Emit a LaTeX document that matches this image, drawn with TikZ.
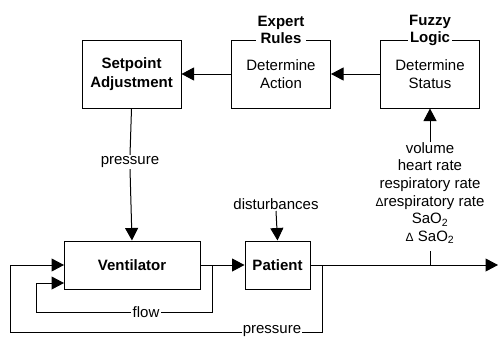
\documentclass[tikz,border=0pt]{standalone}
\usepackage{fontspec}
\setmainfont{Liberation Sans}
\usetikzlibrary{arrows.meta}
\begin{document}
\begin{tikzpicture}[x=1pt,y=-1pt,
  font=\fontsize{15}{17.6}\selectfont,
  line width=1pt,
  arr/.style={-{Triangle[length=12.5pt,width=13pt]}},
  blk/.style={draw,minimum width=99pt,minimum height=68pt,align=center,inner sep=0pt},
  lbl/.style={inner sep=1.5pt,fill=white,align=center}]
\useasboundingbox (0,0) rectangle (500,340);
% top row
\node[blk,font=\fontsize{15}{19}\selectfont\bfseries] (setp) at (131.5,74) {Setpoint\\Adjustment};
\node[blk] (act) at (281,74) {Determine\\Action};
\node[blk] (fuz) at (430,74) {Determine\\Status};
\node[lbl,font=\fontsize{15}{17}\selectfont\bfseries] (expt) at (281,30) {Expert\\Rules};
\node[lbl,font=\fontsize{15}{17}\selectfont\bfseries] (fuzt) at (430,30) {Fuzzy\\Logic};
\draw[arr] (fuz) -- (act);
\draw[arr] (act) -- (setp);
% signals
\node[align=center,inner sep=0pt] (sig) at (430,193) {volume\\heart rate\\respiratory rate\\{\fontsize{12}{12}\selectfont Δ}respiratory rate\\SaO\textsubscript{2}\\{\fontsize{12}{12}\selectfont Δ} SaO\textsubscript{2}};
\draw[arr] (sig.north) -- (fuz.south);
% lower row
\node[draw,minimum width=136pt,minimum height=48pt,inner sep=0pt,font=\fontsize{15}{17}\selectfont\bfseries] (vent) at (132,265) {Ventilator};
\node[draw,minimum width=65pt,minimum height=48pt,inner sep=0pt,font=\fontsize{15}{17}\selectfont\bfseries] (pat) at (277.5,265) {Patient};
\node[inner sep=1pt] (plab) at (130,162) {pressure};
\node[inner sep=1pt] (dist) at (276,204) {disturbances};
\draw (setp.south) -- (plab.north);
\draw[arr] (plab.south) -- (vent.north);
\draw[arr] (dist.south) -- (pat.north);
\draw[arr] (vent.east) -- (pat.west);
% flow loop
\coordinate (b1) at (212,265);
\coordinate (f1) at (212,312);
\coordinate (f2) at (36,312);
\coordinate (f3) at (36,283);
\coordinate (f4) at (64,283);
\draw[arr] (b1) -- (f1) -- (f2) -- (f3) -- (f4);
\node[lbl,inner sep=2pt] (flab) at (146,312) {flow};
% output
\coordinate (out) at (498,265);
\draw[arr] (pat.east) -- (out);
\coordinate (tk) at (430,251);
\coordinate (tkb) at (430,265);
\draw (tk) -- (tkb);
% pressure loop
\coordinate (b2) at (322,265);
\coordinate (p1) at (322,332);
\coordinate (p2) at (10,332);
\coordinate (p3) at (10,265);
\coordinate (p4) at (64,265);
\draw[arr] (b2) -- (p1) -- (p2) -- (p3) -- (p4);
\node[lbl,inner sep=1pt] (plab2) at (272,331) {pressure};
\end{tikzpicture}
\end{document}
